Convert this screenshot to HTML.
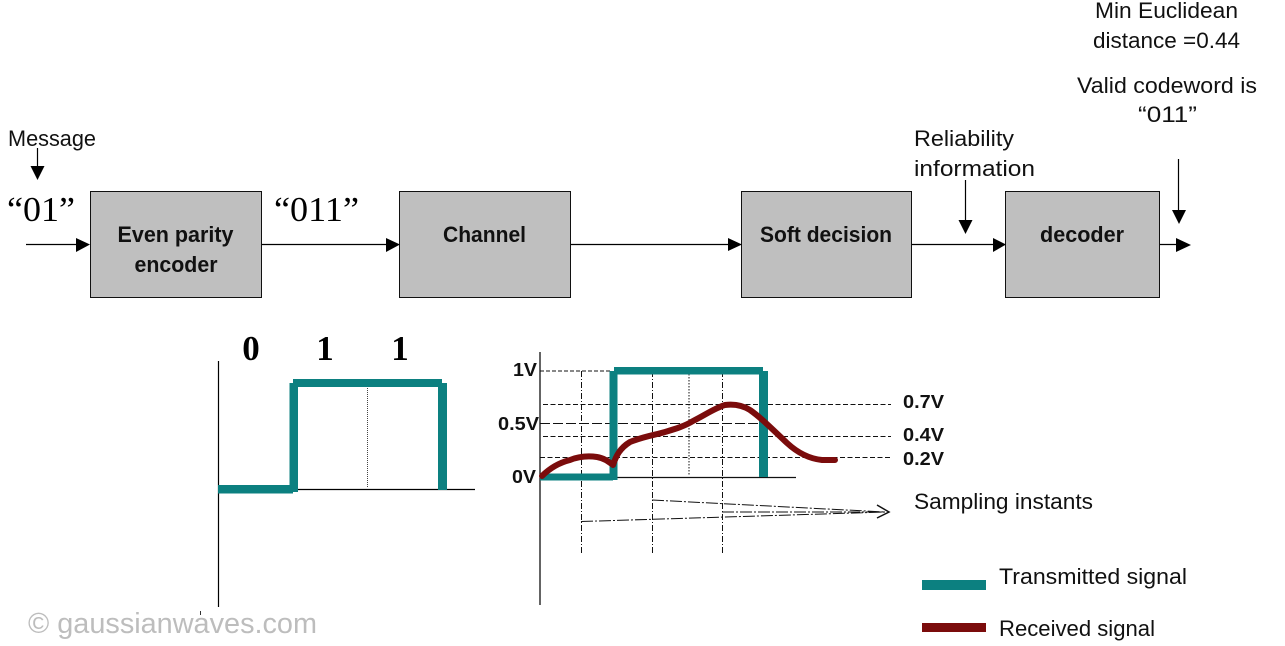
<!DOCTYPE html>
<html><head><meta charset="utf-8"><style>
html,body{margin:0;padding:0;background:#fff;width:1285px;height:646px;overflow:hidden}
svg{display:block}
text{font-family:"Liberation Sans",sans-serif;fill:#111}
.s{font-family:"Liberation Serif",serif;fill:#000}
</style></head><body>
<svg width="1285" height="646" viewBox="0 0 1285 646" xmlns="http://www.w3.org/2000/svg">
<!-- boxes -->
<g fill="#bfbfbf" stroke="#111" stroke-width="1">
<rect x="90.5" y="191.5" width="171" height="106"/>
<rect x="399.5" y="191.5" width="171" height="106"/>
<rect x="741.5" y="191.5" width="170" height="106"/>
<rect x="1005.5" y="191.5" width="154" height="106"/>
</g>
<!-- connectors -->
<g stroke="#000" stroke-width="1.2" fill="none">
<path d="M26 244.500H78M262 244.500H388M571 244.500H730M912 244.500H995M1160 244.500H1178"/>
<path d="M37.500 148V170M965.500 180V222M1178.500 159V212"/>
</g>
<g fill="#000">
<path d="M76 238L90 244.500L76 252Z"/><path d="M386 238L400 244.500L386 252Z"/>
<path d="M728 238L742 244.500L728 251Z"/><path d="M993 238L1006 244.500L993 252Z"/>
<path d="M1176 238L1191 245L1176 252Z"/>
<path d="M30.500 166H44.500L37.500 180Z"/><path d="M958.500 220H972.500L965.500 234Z"/><path d="M1172 210H1186L1179 224Z"/>
</g>
<!-- top labels -->
<text x="8" y="146" font-size="22" textLength="88" lengthAdjust="spacingAndGlyphs">Message</text>
<text class="s" x="7" y="221" font-size="35" textLength="68" lengthAdjust="spacingAndGlyphs">“01”</text>
<text class="s" x="274" y="221" font-size="35" textLength="85" lengthAdjust="spacingAndGlyphs">“011”</text>
<g font-size="22" text-anchor="middle">
<text x="175.500" y="242" font-weight="bold" textLength="116" lengthAdjust="spacingAndGlyphs">Even parity</text>
<text x="176" y="272" font-weight="bold" textLength="83" lengthAdjust="spacingAndGlyphs">encoder</text>
<text x="484.500" y="242" font-weight="bold" textLength="83" lengthAdjust="spacingAndGlyphs">Channel</text>
<text x="826" y="242" font-weight="bold" textLength="132" lengthAdjust="spacingAndGlyphs">Soft decision</text>
<text x="1082" y="242" font-weight="bold" textLength="84" lengthAdjust="spacingAndGlyphs">decoder</text>
</g>
<g font-size="22">
<text x="914" y="146" textLength="100" lengthAdjust="spacingAndGlyphs">Reliability</text>
<text x="914" y="176" textLength="121" lengthAdjust="spacingAndGlyphs">information</text>
<text x="1095" y="18" textLength="143" lengthAdjust="spacingAndGlyphs">Min Euclidean</text>
<text x="1093" y="48" textLength="147" lengthAdjust="spacingAndGlyphs">distance =0.44</text>
<text x="1077" y="93" textLength="180" lengthAdjust="spacingAndGlyphs">Valid codeword is</text>
<text x="1138" y="122" textLength="59" lengthAdjust="spacingAndGlyphs">“011”</text>
</g>
<!-- left chart -->
<g font-size="35" text-anchor="middle">
<text class="s" x="251" y="360" font-weight="bold">0</text>
<text class="s" x="325" y="360" font-weight="bold">1</text>
<text class="s" x="400" y="360" font-weight="bold">1</text>
</g>
<path d="M218.500 361V607M295 489.500H475" stroke="#000" stroke-width="1.2" fill="none"/>
<path d="M367.500 388V488" stroke="#444" stroke-width="1" stroke-dasharray="1 1" fill="none"/>
<g fill="#0c8080">
<rect x="218" y="485" width="75" height="8.500"/>
<rect x="289.500" y="383" width="8.500" height="109"/>
<rect x="293" y="379" width="149" height="8"/>
<rect x="438" y="383" width="9" height="107"/>
</g>
<path d="M200.500 611V615" stroke="#333" stroke-width="1" fill="none"/>
<!-- right chart guides -->
<g stroke="#111" stroke-width="1" fill="none">
<path d="M540 371H612" stroke-dasharray="4 2"/>
<path d="M543 404.500H891M543 436.500H891M540 457.500H891" stroke-dasharray="5 2.500"/>
<path d="M540 423.500H760" stroke-dasharray="10 3"/>
<path d="M581.500 371V553M652.500 371V553M722.500 371V553" stroke-dasharray="6 2 1 2"/>
<path d="M689 371V475" stroke-dasharray="1.500 1.500"/>
<path d="M652 500L885 512M581 521.500L885 512M722 512H885" stroke-dasharray="12 2 2 2"/>
<path d="M877 505L889 512L877 518" stroke-width="1.500"/>
</g>
<path d="M540 352V605M613 477.500H796" stroke="#111" stroke-width="1.300" fill="none"/>
<g fill="#0c8080">
<rect x="540" y="473.500" width="73" height="7"/>
<rect x="609.500" y="371" width="8" height="109"/>
<rect x="614" y="367" width="149" height="7.500"/>
<rect x="759" y="371" width="9" height="106"/>
</g>
<path d="M542 476C552 466 562 462 570 460C580 456 590 456 597 457C604 458 609 462 613 465C616 456 620 448 630 442C645 436 655 435 665 432C675 429 685 426 693 421C705 415 715 408 725 405C733 404 742 405 750 410C760 417 768 425 787 443C800 455 812 459 822 460H835" fill="none" stroke="#7b0c0c" stroke-width="6" stroke-linecap="round" stroke-linejoin="round"/>
<g font-size="18.500">
<text x="513" y="376" font-weight="bold" textLength="24" lengthAdjust="spacingAndGlyphs">1V</text>
<text x="498" y="430" font-weight="bold" textLength="41" lengthAdjust="spacingAndGlyphs">0.5V</text>
<text x="512" y="483" font-weight="bold" textLength="24" lengthAdjust="spacingAndGlyphs">0V</text>
<text x="903" y="408" font-weight="bold" textLength="41" lengthAdjust="spacingAndGlyphs">0.7V</text>
<text x="903" y="441" font-weight="bold" textLength="41" lengthAdjust="spacingAndGlyphs">0.4V</text>
<text x="903" y="465" font-weight="bold" textLength="41" lengthAdjust="spacingAndGlyphs">0.2V</text>
</g>
<g font-size="22">
<text x="914" y="509" textLength="179" lengthAdjust="spacingAndGlyphs">Sampling instants</text>
<text x="999" y="584" textLength="188" lengthAdjust="spacingAndGlyphs">Transmitted signal</text>
<text x="999" y="636" textLength="156" lengthAdjust="spacingAndGlyphs">Received signal</text>
</g>
<rect x="922" y="580" width="64" height="10" fill="#0c8080"/>
<rect x="922" y="623" width="64" height="9" fill="#7b0c0c"/>
<text x="28" y="633" font-size="29" style="fill:#bdbdbd" textLength="289" lengthAdjust="spacingAndGlyphs">© gaussianwaves.com</text>
</svg>
</body></html>
